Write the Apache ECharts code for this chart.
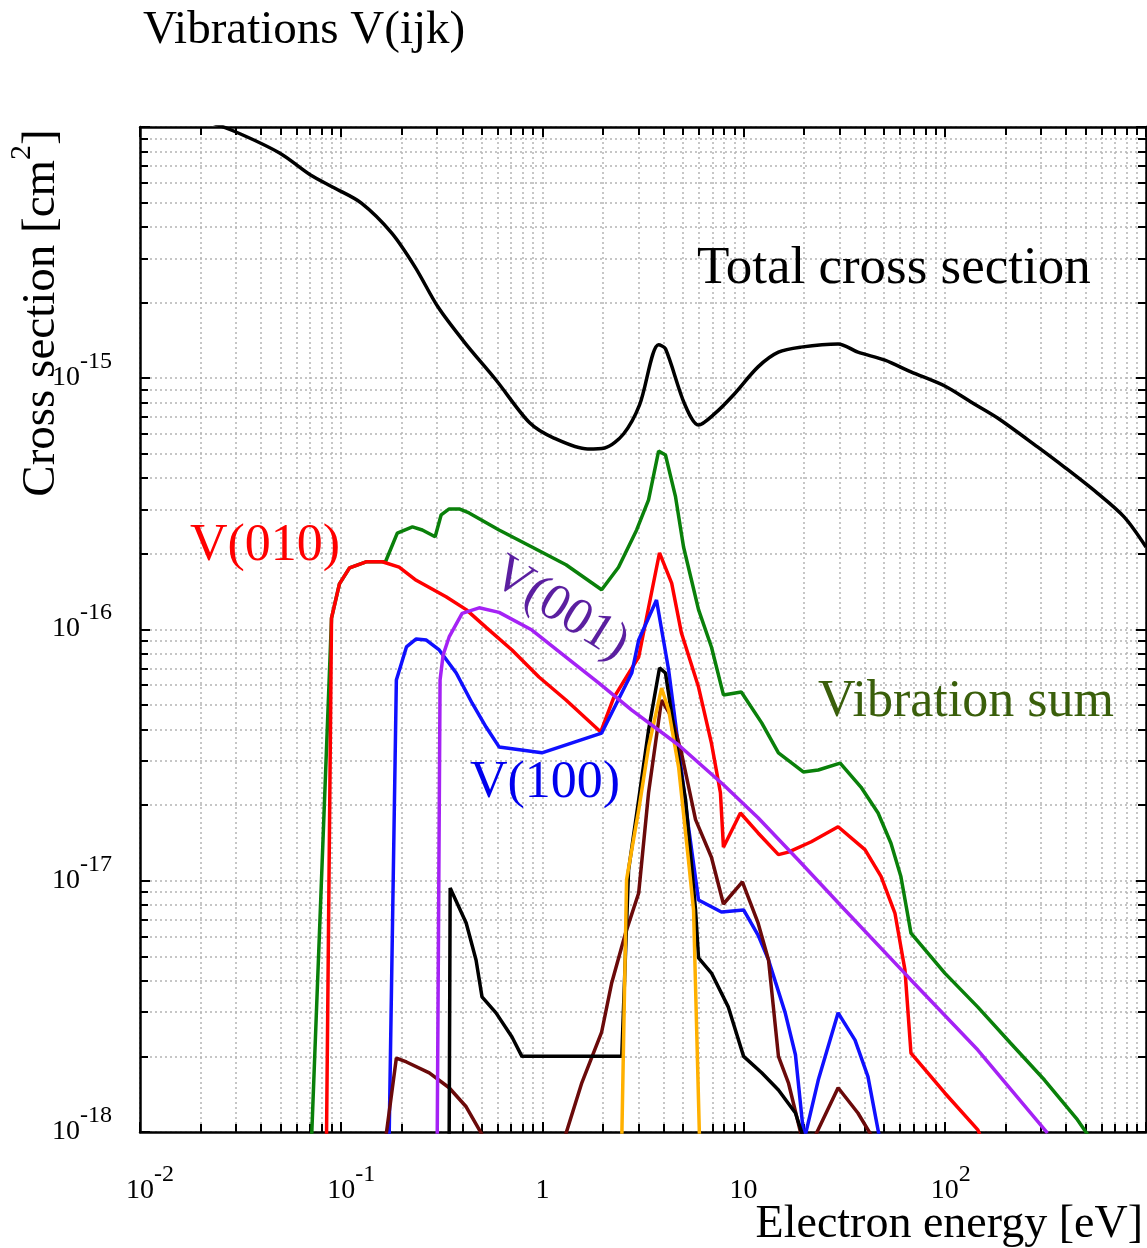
<!DOCTYPE html>
<html>
<head>
<meta charset="utf-8">
<title>Vibrations V(ijk)</title>
<script src="https://cdn.jsdelivr.net/npm/echarts@6/dist/echarts.min.js"></script>
<style>
html, body { margin: 0; padding: 0; background: #ffffff; }
#main { width: 1147px; height: 1248px; }
</style>
</head>
<body>
<div id="main"></div>
<script>
// electron energy [eV] / cross section [cm^2]
var totalEnergy = [0.0198, 0.0292, 0.0494, 0.0704, 0.0926, 0.126, 0.178, 0.233, 0.303, 0.413, 0.588, 0.867, 1.14, 1.68, 2.04, 2.53, 3.04, 3.78, 4.09, 5.09, 5.97, 7.16, 8.90, 11.8, 14.9, 19.3, 29.5, 37.0, 50.4, 67.9, 100, 135, 183, 289, 393, 573, 780, 1000];
var totalSigma = [1.08e-14, 9.64e-15, 7.88e-15, 6.44e-15, 5.72e-15, 4.98e-15, 3.79e-15, 2.77e-15, 1.92e-15, 1.38e-15, 9.84e-16, 6.63e-16, 5.78e-16, 5.23e-16, 5.28e-16, 6.00e-16, 7.83e-16, 1.36e-15, 1.31e-15, 7.90e-16, 6.51e-16, 7.21e-16, 8.58e-16, 1.11e-15, 1.27e-15, 1.33e-15, 1.37e-15, 1.27e-15, 1.18e-15, 1.06e-15, 9.31e-16, 8.04e-16, 6.95e-16, 5.33e-16, 4.43e-16, 3.49e-16, 2.80e-16, 2.13e-16];

var sumEnergy = [0.0712, 0.0895, 0.098, 0.110, 0.133, 0.166, 0.190, 0.226, 0.253, 0.293, 0.314, 0.344, 0.386, 0.432, 0.609, 0.887, 1.31, 1.97, 2.39, 2.94, 3.37, 3.78, 4.09, 4.59, 5.03, 5.51, 5.97, 6.92, 7.94, 9.74, 12.3, 14.9, 19.8, 23.5, 30.2, 38.3, 46.6, 54.0, 60.5, 67.9, 100, 146, 212, 313, 456, 535];
var sumSigma = [9.3e-19, 1.11e-16, 1.52e-16, 1.76e-16, 1.86e-16, 1.86e-16, 2.42e-16, 2.56e-16, 2.49e-16, 2.34e-16, 2.86e-16, 3.02e-16, 3.02e-16, 2.91e-16, 2.49e-16, 2.13e-16, 1.81e-16, 1.44e-16, 1.77e-16, 2.49e-16, 3.28e-16, 5.13e-16, 4.95e-16, 3.37e-16, 2.13e-16, 1.57e-16, 1.20e-16, 8.52e-17, 5.49e-17, 5.64e-17, 4.25e-17, 3.23e-17, 2.71e-17, 2.76e-17, 2.94e-17, 2.36e-17, 1.86e-17, 1.41e-17, 1.04e-17, 6.19e-18, 4.29e-18, 3.14e-18, 2.26e-18, 1.61e-18, 1.12e-18, 9.3e-19];

var v010Energy = [0.0845, 0.0895, 0.098, 0.110, 0.133, 0.160, 0.194, 0.236, 0.332, 0.418, 0.525, 0.706, 0.961, 1.31, 1.95, 2.26, 3.01, 3.82, 4.39, 4.91, 5.97, 6.92, 7.67, 7.94, 9.64, 11.8, 14.9, 16.7, 21.7, 29.5, 40.1, 48.2, 56.5, 63.4, 67.9, 100, 146, 153];
var v010Sigma = [9.3e-19, 1.11e-16, 1.52e-16, 1.76e-16, 1.86e-16, 1.86e-16, 1.77e-16, 1.57e-16, 1.35e-16, 1.20e-16, 1.02e-16, 8.29e-17, 6.47e-17, 5.24e-17, 3.91e-17, 5.34e-17, 7.77e-17, 2.02e-16, 1.53e-16, 9.68e-17, 5.90e-17, 3.53e-17, 2.24e-17, 1.36e-17, 1.86e-17, 1.55e-17, 1.27e-17, 1.30e-17, 1.43e-17, 1.64e-17, 1.33e-17, 1.04e-17, 7.44e-18, 4.41e-18, 2.06e-18, 1.43e-18, 1.02e-18, 9.3e-19];

var v001Energy = [0.300, 0.310, 0.321, 0.344, 0.399, 0.485, 0.609, 0.887, 1.31, 1.91, 2.78, 4.75, 7.94, 11.8, 18.7, 31.9, 67.9, 146, 324];
var v001Sigma = [9.3e-19, 6.30e-17, 7.92e-17, 9.34e-17, 1.16e-16, 1.22e-16, 1.17e-16, 9.95e-17, 7.77e-17, 6.12e-17, 4.78e-17, 3.47e-17, 2.41e-17, 1.78e-17, 1.21e-17, 7.65e-18, 4.03e-18, 2.12e-18, 9.9e-19];

var v100Energy = [0.173, 0.188, 0.211, 0.236, 0.265, 0.307, 0.373, 0.447, 0.525, 0.609, 0.994, 1.97, 2.21, 2.78, 3.01, 3.69, 4.24, 4.75, 5.32, 5.97, 7.76, 10.0, 11.8, 13.3, 16.1, 18.1, 20.0, 23.5, 29.5, 35.8, 41.5, 47.6];
var v100Sigma = [9.3e-19, 6.30e-17, 8.52e-17, 9.17e-17, 9.08e-17, 8.29e-17, 6.71e-17, 5.10e-17, 4.09e-17, 3.41e-17, 3.23e-17, 3.87e-17, 4.65e-17, 6.71e-17, 9.08e-17, 1.31e-16, 6.90e-17, 3.41e-17, 1.64e-17, 8.38e-18, 7.51e-18, 7.65e-18, 6.08e-18, 4.84e-18, 2.98e-18, 2.03e-18, 9.3e-19, 1.61e-18, 2.98e-18, 2.32e-18, 1.66e-18, 9.3e-19];

// unlabelled components (black, dark red, orange)
var blackEnergy = [0.344, 0.348, 0.418, 0.468, 0.501, 0.588, 0.706, 0.791, 2.48, 2.68, 3.01, 3.37, 3.82, 4.09, 4.59, 5.15, 5.77, 5.97, 6.92, 8.40, 10.0, 12.3, 14.9, 18.1, 20.0];
var blackSigma = [9.3e-19, 9.36e-18, 6.79e-18, 4.84e-18, 3.45e-18, 2.98e-18, 2.39e-18, 2.0e-18, 2.0e-18, 1.10e-17, 2.10e-17, 3.98e-17, 7.03e-17, 6.71e-17, 3.63e-17, 2.10e-17, 7.65e-18, 4.93e-18, 4.29e-18, 3.14e-18, 2.0e-18, 1.72e-18, 1.47e-18, 1.19e-18, 9.3e-19];

var brownEnergy = [0.166, 0.188, 0.211, 0.274, 0.344, 0.418, 0.519, 0.8, 1.28, 1.57, 1.97, 2.21, 2.59, 3.01, 3.37, 3.91, 4.39, 4.91, 5.77, 6.92, 7.94, 9.86, 11.8, 13.3, 14.9, 16.7, 19.6, 21, 22.2, 29.5, 37.0, 44.5];
var brownSigma = [9.3e-19, 1.97e-18, 1.90e-18, 1.72e-18, 1.50e-18, 1.26e-18, 9.3e-19, null, 9.3e-19, 1.57e-18, 2.50e-18, 3.92e-18, 6.19e-18, 8.94e-18, 2.24e-17, 5.24e-17, 4.48e-17, 3.23e-17, 1.75e-17, 1.24e-17, 8.08e-18, 9.89e-18, 6.79e-18, 4.84e-18, 2.0e-18, 1.57e-18, 9.3e-19, null, 9.3e-19, 1.50e-18, 1.19e-18, 9.3e-19];

var orangeEnergy = [2.48, 2.62, 3.01, 3.37, 3.91, 4.24, 4.75, 5.32, 5.64, 6.04];
var orangeSigma = [9.3e-19, 1.01e-17, 1.91e-17, 3.41e-17, 5.85e-17, 4.78e-17, 2.84e-17, 1.21e-17, 7.65e-18, 9.3e-19];

var xTickValues = [0.01, 0.1, 1, 10, 100];
var xTickLabels = [['10', '-2'], ['10', '-1'], ['1', ''], ['10', ''], ['10', '2']];
var yTickValues = [1e-18, 1e-17, 1e-16, 1e-15];
var yTickLabels = [['10', '-18'], ['10', '-17'], ['10', '-16'], ['10', '-15']];

var SERIF = 'Liberation Serif';

function pairs(xs, ys) {
    return xs.map(function (x, i) {
        return [x, ys[i] === null ? '-' : ys[i]];
    });
}

function findLabel(values, labels, v) {
    for (var i = 0; i < values.length; i++) {
        if (Math.abs(Math.log10(v) - Math.log10(values[i])) < 0.01) {
            return labels[i];
        }
    }
    return null;
}

function line(name, xs, ys, color, z, smooth) {
    return {
        name: name,
        type: 'line',
        data: pairs(xs, ys),
        symbol: 'none',
        showSymbol: false,
        connectNulls: false,
        smooth: smooth || false,
        clip: true,
        silent: true,
        z: z,
        lineStyle: { color: color, width: 3.5 },
        itemStyle: { color: color }
    };
}

var gridLine = { color: '#b4b4b4', width: 1.5, type: [2, 3] };
var frameLine = { color: '#000', width: 2.5 };
var tickLine = { color: '#000', width: 2 };

function logAxis(min, max, pos, main, extra) {
    var ax = {
        type: 'log',
        logBase: 10,
        min: min,
        max: max,
        position: pos,
        axisLine: { show: true, onZero: false, lineStyle: frameLine },
        axisTick: { show: true, inside: true, length: 10, lineStyle: tickLine },
        minorTick: { show: true, splitNumber: 9, length: 8, lineStyle: tickLine },
        splitLine: { show: main, lineStyle: gridLine },
        minorSplitLine: { show: main, lineStyle: gridLine },
        axisLabel: { show: false }
    };
    for (var k in extra) ax[k] = extra[k];
    return ax;
}

var tickRich = {
    b: { fontFamily: SERIF, fontSize: 28, lineHeight: 42, verticalAlign: 'bottom', color: '#000' },
    b1: { fontFamily: SERIF, fontSize: 28, lineHeight: 42, verticalAlign: 'bottom', color: '#000', padding: [0, 0, 0, 12] },
    b2: { fontFamily: SERIF, fontSize: 28, lineHeight: 42, verticalAlign: 'bottom', color: '#000', padding: [0, 0, 0, 20] },
    s: { fontFamily: SERIF, fontSize: 24, verticalAlign: 'top', color: '#000' }
};

var chart = echarts.init(document.getElementById('main'), null, { renderer: 'canvas' });

chart.setOption({
    animation: false,
    backgroundColor: '#ffffff',
    grid: { left: 140, right: 1, top: 127, bottom: 116, containLabel: false, outerBoundsMode: 'none' },
    xAxis: [
        logAxis(0.01, 1000, 'bottom', true, {
            axisLabel: {
                show: true,
                margin: 31,
                rich: tickRich,
                formatter: function (v) {
                    var l = findLabel(xTickValues, xTickLabels, v);
                    if (!l) return '';
                    if (!l[1]) return '{b|' + l[0] + '}';
                    var base = l[1].charAt(0) === '-' ? 'b2' : 'b1';
                    return '{' + base + '|' + l[0] + '}{s|' + l[1] + '}';
                }
            }
        }),
        logAxis(0.01, 1000, 'top', false, {})
    ],
    yAxis: [
        logAxis(1e-18, 1e-14, 'left', true, {
            axisLabel: {
                show: true,
                margin: 28,
                padding: [0, 0, 15, 0],
                rich: tickRich,
                formatter: function (v) {
                    var l = findLabel(yTickValues, yTickLabels, v);
                    if (!l) return '';
                    return '{b|' + l[0] + '}{s|' + l[1] + '}';
                }
            }
        }),
        logAxis(1e-18, 1e-14, 'right', false, {})
    ],
    series: [
        line('Total cross section', totalEnergy, totalSigma, '#000000', 2, 0.3),
        line('Vibration sum', sumEnergy, sumSigma, '#0a800a', 3),
        line('V(010)', v010Energy, v010Sigma, '#ff0000', 4),
        line('V(100)', v100Energy, v100Sigma, '#1010ff', 5),
        line('brown', brownEnergy, brownSigma, '#6b0a0a', 6),
        line('black', blackEnergy, blackSigma, '#000000', 7),
        line('orange', orangeEnergy, orangeSigma, '#ffb000', 8),
        line('V(001)', v001Energy, v001Sigma, '#a522f5', 9)
    ],
    graphic: [
        { type: 'text', x: 143, y: 31, z: 100,
          style: { text: 'Vibrations V(ijk)', fill: '#000', font: '47px "Liberation Serif"', align: 'left', verticalAlign: 'middle' } },
        { type: 'text', x: 36, y: 313, rotation: Math.PI / 2, z: 100,
          style: {
              text: '{a|Cross section [cm}{s|2}{a|]}', align: 'center', verticalAlign: 'middle',
              rich: {
                  a: { fontFamily: SERIF, fontSize: 47, lineHeight: 58, verticalAlign: 'bottom', color: '#000' },
                  s: { fontFamily: SERIF, fontSize: 30, verticalAlign: 'top', color: '#000' }
              }
          } },
        { type: 'text', x: 1143, y: 1225, z: 100,
          style: { text: 'Electron energy [eV]', fill: '#000', font: '46px "Liberation Serif"', align: 'right', verticalAlign: 'middle' } },
        { type: 'text', x: 697, y: 269, z: 100,
          style: { text: 'Total cross section', fill: '#000', font: '53px "Liberation Serif"', align: 'left', verticalAlign: 'middle' } },
        { type: 'text', x: 818, y: 702, z: 100,
          style: { text: 'Vibration sum', fill: '#3a5f0b', font: '52px "Liberation Serif"', align: 'left', verticalAlign: 'middle' } },
        { type: 'text', x: 190, y: 546, z: 100,
          style: { text: 'V(010)', fill: '#ff0000', font: '52px "Liberation Serif"', align: 'left', verticalAlign: 'middle' } },
        { type: 'text', x: 470, y: 783, z: 100,
          style: { text: 'V(100)', fill: '#0000ee', font: '52px "Liberation Serif"', align: 'left', verticalAlign: 'middle' } },
        { type: 'text', x: 560, y: 609, rotation: -0.56, z: 100,
          style: { text: 'V(001)', fill: '#5b1fa0', font: '52px "Liberation Serif"', align: 'center', verticalAlign: 'middle' } }
    ]
});
</script>
</body>
</html>
